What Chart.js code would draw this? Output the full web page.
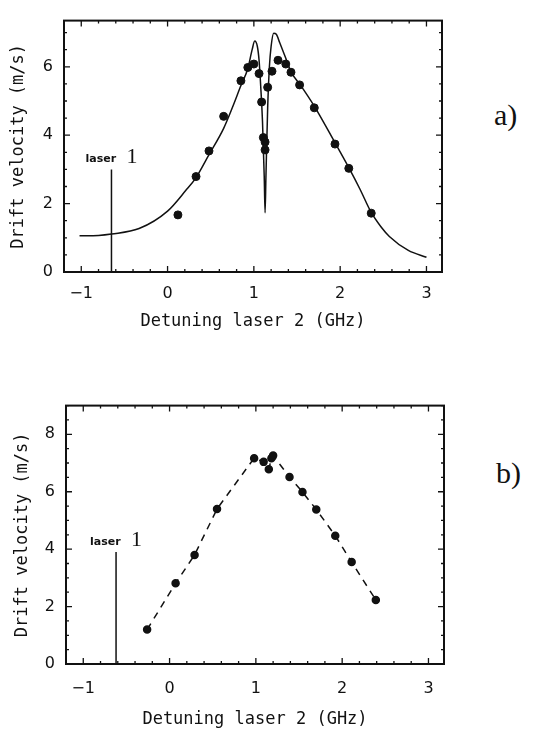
<!DOCTYPE html>
<html>
<head>
<meta charset="utf-8">
<script src="https://cdn.jsdelivr.net/npm/chart.js@4.4.0/dist/chart.umd.min.js"></script>
<style>
  body { margin: 0; background: #fff; width: 549px; height: 733px; position: relative; overflow: hidden; }
  canvas { position: absolute; left: 0; }
  .tag { position: absolute; font-family: "Liberation Serif", serif; font-size: 30px; color: #111; line-height: 1; }
</style>
</head>
<body>
<canvas id="chartA" width="460" height="335" style="top:0"></canvas>
<canvas id="chartB" width="460" height="348" style="top:385px"></canvas>
<div class="tag" style="left:494px;top:100px">a)</div>
<div class="tag" style="left:496px;top:458px">b)</div>
<script>
// ============================================
// DATA
// ============================================
const xTicks = [-1, 0, 1, 2, 3];
const yTicksA = [0, 2, 4, 6];
const yTicksB = [0, 2, 4, 6, 8];

// a) measured drift velocity
const detuningA = [0.12, 0.33, 0.48, 0.65, 0.85, 0.93, 1.00, 1.06, 1.09, 1.11, 1.13, 1.13, 1.16, 1.21, 1.28, 1.37, 1.43, 1.53, 1.70, 1.94, 2.10, 2.36];
const velocityA = [1.67, 2.79, 3.54, 4.55, 5.59, 5.98, 6.08, 5.80, 4.97, 3.93, 3.80, 3.57, 5.40, 5.87, 6.19, 6.08, 5.84, 5.47, 4.80, 3.74, 3.03, 1.72];

// a) calculated curve
const curveX = [-1.02, -0.8, -0.65, -0.33, 0.00, 0.21, 0.33, 0.48, 0.65, 0.75, 0.85, 0.93, 0.98, 1.01, 1.04, 1.06, 1.08, 1.10, 1.12, 1.13, 1.14, 1.16, 1.18, 1.20, 1.23, 1.26, 1.30, 1.37, 1.43, 1.53, 1.70, 1.94, 2.10, 2.23, 2.36, 2.47, 2.57, 2.79, 3.00];
const curveY = [1.06, 1.07, 1.11, 1.27, 1.78, 2.38, 2.76, 3.43, 4.20, 4.80, 5.45, 5.95, 6.50, 6.75, 6.60, 6.20, 5.40, 4.40, 2.80, 1.73, 2.80, 4.80, 6.00, 6.60, 6.98, 6.95, 6.70, 6.25, 5.85, 5.50, 4.85, 3.78, 3.05, 2.42, 1.74, 1.33, 1.04, 0.63, 0.43];

// b) measured drift velocity
const detuningB = [-0.26, 0.07, 0.29, 0.55, 0.98, 1.09, 1.15, 1.18, 1.20, 1.39, 1.54, 1.70, 1.92, 2.11, 2.39];
const velocityB = [1.20, 2.81, 3.80, 5.40, 7.17, 7.04, 6.78, 7.17, 7.26, 6.51, 5.99, 5.38, 4.47, 3.55, 2.23];

// position of laser 1 (GHz) and height of its marker (m/s)
const laser1A = -0.65, laserTopA = 3.0;
const laser1B = -0.62, laserTopB = 3.9;

const ink = '#111';

function toPoints(xs, ys) {
    return xs.map((x, i) => ({ x: x, y: ys[i] }));
}

// small inward ticks on all four sides plus the frame
const frameTicks = {
    id: 'frameTicks',
    afterDatasetsDraw(chart) {
        const { ctx, chartArea: a, scales: { x, y } } = chart;
        ctx.save();
        ctx.strokeStyle = ink;
        ctx.lineWidth = 1.3;
        ctx.beginPath();
        for (let i = Math.ceil(x.min * 5); i <= Math.floor(x.max * 5); i++) {
            const px = x.getPixelForValue(i / 5);
            const len = i % 5 === 0 ? 6 : 3;
            ctx.moveTo(px, a.bottom); ctx.lineTo(px, a.bottom - len);
            ctx.moveTo(px, a.top); ctx.lineTo(px, a.top + len);
        }
        for (let j = Math.ceil(y.min * 2); j <= Math.floor(y.max * 2); j++) {
            const py = y.getPixelForValue(j / 2);
            const len = j % 4 === 0 ? 6 : 3;
            ctx.moveTo(a.left, py); ctx.lineTo(a.left + len, py);
            ctx.moveTo(a.right, py); ctx.lineTo(a.right - len, py);
        }
        ctx.stroke();
        ctx.lineWidth = 2;
        ctx.strokeRect(a.left, a.top, a.right - a.left, a.bottom - a.top);
        ctx.restore();
    }
};

// "laser 1" caption on top of the marker line
const laserLabel = {
    id: 'laserLabel',
    afterDatasetsDraw(chart, args, opts) {
        const { ctx, scales: { x, y } } = chart;
        const px = x.getPixelForValue(opts.at);
        const py = y.getPixelForValue(opts.top);
        ctx.save();
        ctx.fillStyle = ink;
        ctx.textBaseline = 'alphabetic';
        ctx.font = 'bold 11px "DejaVu Sans"';
        ctx.fillText('laser', px - 26, py - 7);
        ctx.font = '22px "Liberation Serif"';
        ctx.fillText('1', px + 15, py - 6);
        ctx.restore();
    }
};

function makeChart(id, cfg) {
    return new Chart(document.getElementById(id), {
        type: 'scatter',
        data: { datasets: cfg.datasets },
        options: {
            responsive: false,
            animation: false,
            layout: { padding: { top: cfg.padTop, right: cfg.padRight, left: 0, bottom: 0 } },
            plugins: {
                legend: { display: false },
                tooltip: { enabled: false },
                laserLabel: { at: cfg.laserAt, top: cfg.laserTop }
            },
            scales: {
                x: {
                    type: 'linear',
                    min: -1.2, max: 3.18,
                    afterBuildTicks: s => { s.ticks = xTicks.map(v => ({ value: v })); },
                    afterFit: s => { s.height = cfg.xHeight; },
                    grid: { display: false, drawTicks: false },
                    border: { display: false },
                    ticks: {
                        color: ink,
                        padding: cfg.xTickPad,
                        font: { family: '"DejaVu Sans"', size: 16 },
                        callback: v => (v < 0 ? '\u2212' + Math.abs(v) : String(v))
                    },
                    title: {
                        display: true,
                        text: 'Detuning laser 2 (GHz)',
                        color: ink,
                        font: { family: '"DejaVu Sans Mono"', size: 17 },
                        padding: { top: 0, bottom: 3 }
                    }
                },
                y: {
                    type: 'linear',
                    min: 0, max: cfg.yMax,
                    afterBuildTicks: s => { s.ticks = cfg.yTicks.map(v => ({ value: v })); },
                    afterFit: s => { s.width = cfg.yWidth; },
                    grid: { display: false, drawTicks: false },
                    border: { display: false },
                    ticks: {
                        color: ink,
                        padding: 11,
                        font: { family: '"DejaVu Sans"', size: 16 }
                    },
                    title: {
                        display: true,
                        text: 'Drift velocity (m/s)',
                        color: ink,
                        font: { family: '"DejaVu Sans Mono"', size: 17 },
                        padding: { top: cfg.yTitlePad, bottom: 0 }
                    }
                }
            }
        },
        plugins: [frameTicks, laserLabel]
    });
}

const laserLine = (at, top) => ({
    data: [{ x: at, y: 0 }, { x: at, y: top }],
    showLine: true,
    borderColor: ink,
    borderWidth: 1.5,
    pointRadius: 0
});

makeChart('chartA', {
    padTop: 9, padRight: 18, xHeight: 63, yWidth: 64, xTickPad: 12, yTitlePad: 8,
    yMax: 7.35, yTicks: yTicksA, laserAt: laser1A, laserTop: laserTopA,
    datasets: [
        {
            data: toPoints(curveX, curveY),
            showLine: true,
            borderColor: ink,
            borderWidth: 1.5,
            pointRadius: 0,
            cubicInterpolationMode: 'monotone'
        },
        laserLine(laser1A, laserTopA),
        {
            data: toPoints(detuningA, velocityA),
            showLine: false,
            pointRadius: 4,
            pointBackgroundColor: ink,
            pointBorderColor: ink
        }
    ]
});

makeChart('chartB', {
    padTop: 15, padRight: 16, xHeight: 69, yWidth: 66, xTickPad: 15, yTitlePad: 12,
    yMax: 9, yTicks: yTicksB, laserAt: laser1B, laserTop: laserTopB,
    datasets: [
        laserLine(laser1B, laserTopB),
        {
            data: toPoints(detuningB, velocityB),
            showLine: true,
            borderColor: ink,
            borderWidth: 1.5,
            borderDash: [7, 6],
            pointRadius: 3.5,
            pointBackgroundColor: ink,
            pointBorderColor: ink
        }
    ]
});
</script>
</body>
</html>
